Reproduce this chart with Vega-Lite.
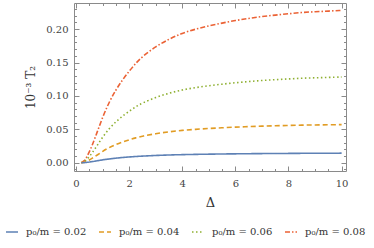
{
  "$schema": "https://vega.github.io/schema/vega-lite/v6.json",
  "autosize": {"type": "none"},
  "width": 272,
  "height": 168,
  "padding": {"left": 74, "top": 3, "right": 28, "bottom": 77},
  "background": "white",
  "config": {
    "font": "DejaVu Serif",
    "view": {"stroke": null},
    "axis": {
      "labelFont": "DejaVu Serif",
      "titleFont": "DejaVu Serif",
      "labelFontSize": 10,
      "labelColor": "#444444",
      "titleColor": "#333333",
      "titleFontWeight": "normal",
      "domainColor": "#8a8a8a",
      "tickColor": "#8a8a8a",
      "grid": false
    },
    "legend": {
      "labelFont": "DejaVu Serif",
      "labelFontSize": 10,
      "labelColor": "#333333"
    }
  },
  "data": {
    "values": [
      {"delta": 0.2, "T2": 0, "series": "p₀/m = 0.08"},
      {"delta": 0.3, "T2": 0.002, "series": "p₀/m = 0.08"},
      {"delta": 0.4, "T2": 0.008, "series": "p₀/m = 0.08"},
      {"delta": 0.5, "T2": 0.016, "series": "p₀/m = 0.08"},
      {"delta": 0.6, "T2": 0.025, "series": "p₀/m = 0.08"},
      {"delta": 0.8, "T2": 0.046, "series": "p₀/m = 0.08"},
      {"delta": 1.0, "T2": 0.068, "series": "p₀/m = 0.08"},
      {"delta": 1.25, "T2": 0.091, "series": "p₀/m = 0.08"},
      {"delta": 1.5, "T2": 0.109, "series": "p₀/m = 0.08"},
      {"delta": 1.75, "T2": 0.124, "series": "p₀/m = 0.08"},
      {"delta": 2.0, "T2": 0.137, "series": "p₀/m = 0.08"},
      {"delta": 2.25, "T2": 0.149, "series": "p₀/m = 0.08"},
      {"delta": 2.5, "T2": 0.159, "series": "p₀/m = 0.08"},
      {"delta": 3.0, "T2": 0.174, "series": "p₀/m = 0.08"},
      {"delta": 3.5, "T2": 0.185, "series": "p₀/m = 0.08"},
      {"delta": 4.0, "T2": 0.194, "series": "p₀/m = 0.08"},
      {"delta": 4.5, "T2": 0.200, "series": "p₀/m = 0.08"},
      {"delta": 5.0, "T2": 0.205, "series": "p₀/m = 0.08"},
      {"delta": 5.5, "T2": 0.209, "series": "p₀/m = 0.08"},
      {"delta": 6.0, "T2": 0.213, "series": "p₀/m = 0.08"},
      {"delta": 6.5, "T2": 0.216, "series": "p₀/m = 0.08"},
      {"delta": 7.0, "T2": 0.219, "series": "p₀/m = 0.08"},
      {"delta": 7.5, "T2": 0.221, "series": "p₀/m = 0.08"},
      {"delta": 8.0, "T2": 0.223, "series": "p₀/m = 0.08"},
      {"delta": 8.5, "T2": 0.225, "series": "p₀/m = 0.08"},
      {"delta": 9.0, "T2": 0.226, "series": "p₀/m = 0.08"},
      {"delta": 9.5, "T2": 0.227, "series": "p₀/m = 0.08"},
      {"delta": 10.0, "T2": 0.228, "series": "p₀/m = 0.08"},

      {"delta": 0.2, "T2": 0, "series": "p₀/m = 0.06"},
      {"delta": 0.3, "T2": 0.0011, "series": "p₀/m = 0.06"},
      {"delta": 0.4, "T2": 0.0045, "series": "p₀/m = 0.06"},
      {"delta": 0.5, "T2": 0.009, "series": "p₀/m = 0.06"},
      {"delta": 0.6, "T2": 0.0141, "series": "p₀/m = 0.06"},
      {"delta": 0.8, "T2": 0.0259, "series": "p₀/m = 0.06"},
      {"delta": 1.0, "T2": 0.0383, "series": "p₀/m = 0.06"},
      {"delta": 1.25, "T2": 0.0512, "series": "p₀/m = 0.06"},
      {"delta": 1.5, "T2": 0.0613, "series": "p₀/m = 0.06"},
      {"delta": 1.75, "T2": 0.0698, "series": "p₀/m = 0.06"},
      {"delta": 2.0, "T2": 0.0771, "series": "p₀/m = 0.06"},
      {"delta": 2.25, "T2": 0.0838, "series": "p₀/m = 0.06"},
      {"delta": 2.5, "T2": 0.0894, "series": "p₀/m = 0.06"},
      {"delta": 3.0, "T2": 0.0979, "series": "p₀/m = 0.06"},
      {"delta": 3.5, "T2": 0.1041, "series": "p₀/m = 0.06"},
      {"delta": 4.0, "T2": 0.1091, "series": "p₀/m = 0.06"},
      {"delta": 4.5, "T2": 0.1125, "series": "p₀/m = 0.06"},
      {"delta": 5.0, "T2": 0.1153, "series": "p₀/m = 0.06"},
      {"delta": 5.5, "T2": 0.1176, "series": "p₀/m = 0.06"},
      {"delta": 6.0, "T2": 0.1198, "series": "p₀/m = 0.06"},
      {"delta": 6.5, "T2": 0.1215, "series": "p₀/m = 0.06"},
      {"delta": 7.0, "T2": 0.1232, "series": "p₀/m = 0.06"},
      {"delta": 7.5, "T2": 0.1243, "series": "p₀/m = 0.06"},
      {"delta": 8.0, "T2": 0.1254, "series": "p₀/m = 0.06"},
      {"delta": 8.5, "T2": 0.1266, "series": "p₀/m = 0.06"},
      {"delta": 9.0, "T2": 0.1271, "series": "p₀/m = 0.06"},
      {"delta": 9.5, "T2": 0.1277, "series": "p₀/m = 0.06"},
      {"delta": 10.0, "T2": 0.1283, "series": "p₀/m = 0.06"},

      {"delta": 0.2, "T2": 0, "series": "p₀/m = 0.04"},
      {"delta": 0.3, "T2": 0.0005, "series": "p₀/m = 0.04"},
      {"delta": 0.4, "T2": 0.002, "series": "p₀/m = 0.04"},
      {"delta": 0.5, "T2": 0.004, "series": "p₀/m = 0.04"},
      {"delta": 0.6, "T2": 0.0063, "series": "p₀/m = 0.04"},
      {"delta": 0.8, "T2": 0.0115, "series": "p₀/m = 0.04"},
      {"delta": 1.0, "T2": 0.017, "series": "p₀/m = 0.04"},
      {"delta": 1.25, "T2": 0.0228, "series": "p₀/m = 0.04"},
      {"delta": 1.5, "T2": 0.0273, "series": "p₀/m = 0.04"},
      {"delta": 1.75, "T2": 0.031, "series": "p₀/m = 0.04"},
      {"delta": 2.0, "T2": 0.0343, "series": "p₀/m = 0.04"},
      {"delta": 2.25, "T2": 0.0373, "series": "p₀/m = 0.04"},
      {"delta": 2.5, "T2": 0.0398, "series": "p₀/m = 0.04"},
      {"delta": 3.0, "T2": 0.0435, "series": "p₀/m = 0.04"},
      {"delta": 3.5, "T2": 0.0463, "series": "p₀/m = 0.04"},
      {"delta": 4.0, "T2": 0.0485, "series": "p₀/m = 0.04"},
      {"delta": 4.5, "T2": 0.05, "series": "p₀/m = 0.04"},
      {"delta": 5.0, "T2": 0.0513, "series": "p₀/m = 0.04"},
      {"delta": 5.5, "T2": 0.0523, "series": "p₀/m = 0.04"},
      {"delta": 6.0, "T2": 0.0533, "series": "p₀/m = 0.04"},
      {"delta": 6.5, "T2": 0.054, "series": "p₀/m = 0.04"},
      {"delta": 7.0, "T2": 0.0548, "series": "p₀/m = 0.04"},
      {"delta": 7.5, "T2": 0.0553, "series": "p₀/m = 0.04"},
      {"delta": 8.0, "T2": 0.0558, "series": "p₀/m = 0.04"},
      {"delta": 8.5, "T2": 0.0563, "series": "p₀/m = 0.04"},
      {"delta": 9.0, "T2": 0.0565, "series": "p₀/m = 0.04"},
      {"delta": 9.5, "T2": 0.0568, "series": "p₀/m = 0.04"},
      {"delta": 10.0, "T2": 0.057, "series": "p₀/m = 0.04"},

      {"delta": 0.2, "T2": 0, "series": "p₀/m = 0.02"},
      {"delta": 0.3, "T2": 0.0001, "series": "p₀/m = 0.02"},
      {"delta": 0.4, "T2": 0.0005, "series": "p₀/m = 0.02"},
      {"delta": 0.5, "T2": 0.001, "series": "p₀/m = 0.02"},
      {"delta": 0.6, "T2": 0.0016, "series": "p₀/m = 0.02"},
      {"delta": 0.8, "T2": 0.0029, "series": "p₀/m = 0.02"},
      {"delta": 1.0, "T2": 0.0043, "series": "p₀/m = 0.02"},
      {"delta": 1.25, "T2": 0.0057, "series": "p₀/m = 0.02"},
      {"delta": 1.5, "T2": 0.0068, "series": "p₀/m = 0.02"},
      {"delta": 1.75, "T2": 0.0078, "series": "p₀/m = 0.02"},
      {"delta": 2.0, "T2": 0.0086, "series": "p₀/m = 0.02"},
      {"delta": 2.25, "T2": 0.0093, "series": "p₀/m = 0.02"},
      {"delta": 2.5, "T2": 0.0099, "series": "p₀/m = 0.02"},
      {"delta": 3.0, "T2": 0.0109, "series": "p₀/m = 0.02"},
      {"delta": 3.5, "T2": 0.0116, "series": "p₀/m = 0.02"},
      {"delta": 4.0, "T2": 0.0121, "series": "p₀/m = 0.02"},
      {"delta": 4.5, "T2": 0.0125, "series": "p₀/m = 0.02"},
      {"delta": 5.0, "T2": 0.0128, "series": "p₀/m = 0.02"},
      {"delta": 5.5, "T2": 0.0131, "series": "p₀/m = 0.02"},
      {"delta": 6.0, "T2": 0.0133, "series": "p₀/m = 0.02"},
      {"delta": 6.5, "T2": 0.0135, "series": "p₀/m = 0.02"},
      {"delta": 7.0, "T2": 0.0137, "series": "p₀/m = 0.02"},
      {"delta": 7.5, "T2": 0.0138, "series": "p₀/m = 0.02"},
      {"delta": 8.0, "T2": 0.0139, "series": "p₀/m = 0.02"},
      {"delta": 8.5, "T2": 0.0141, "series": "p₀/m = 0.02"},
      {"delta": 9.0, "T2": 0.0141, "series": "p₀/m = 0.02"},
      {"delta": 9.5, "T2": 0.0142, "series": "p₀/m = 0.02"},
      {"delta": 10.0, "T2": 0.0143, "series": "p₀/m = 0.02"}
    ]
  },
  "resolve": {"axis": {"x": "independent", "y": "independent"}},
  "layer": [
    {
      "mark": {"type": "line", "strokeWidth": 1.6, "interpolate": "basis"},
      "encoding": {
        "x": {
          "field": "delta", "type": "quantitative",
          "scale": {"domain": [-0.075, 10.165], "nice": false, "zero": false},
          "axis": {"orient": "bottom", "values": [0, 2, 4, 6, 8, 10], "format": "d", "tickSize": -5, "labelPadding": 12, "title": "Δ", "titleFontSize": 13, "titlePadding": 8}
        },
        "y": {
          "field": "T2", "type": "quantitative",
          "scale": {"domain": [-0.0124, 0.2391], "nice": false, "zero": false},
          "axis": {"orient": "left", "values": [0, 0.05, 0.1, 0.15, 0.2], "format": ".2f", "tickSize": -5, "labelPadding": 11, "title": "10⁻³ T₂", "titleFontSize": 12, "titlePadding": 8}
        },
        "color": {
          "field": "series", "type": "nominal",
          "scale": {"domain": ["p₀/m = 0.02", "p₀/m = 0.04", "p₀/m = 0.06", "p₀/m = 0.08"], "range": ["#5E81B5", "#E19C24", "#8FB032", "#EB6235"]},
          "legend": {"orient": "none", "legendX": -69, "legendY": 222, "direction": "horizontal", "columns": 4, "title": null, "symbolType": "stroke", "symbolSize": 144, "symbolStrokeWidth": 1.6, "columnPadding": 8, "labelOffset": 7}
        },
        "strokeDash": {
          "field": "series", "type": "nominal",
          "scale": {"domain": ["p₀/m = 0.02", "p₀/m = 0.04", "p₀/m = 0.06", "p₀/m = 0.08"], "range": [[1, 0], [5, 3], [1.5, 2.5], [5, 2, 1.5, 2]]},
          "legend": {"orient": "none", "legendX": -69, "legendY": 222, "direction": "horizontal", "columns": 4, "title": null, "symbolType": "stroke", "symbolSize": 144, "symbolStrokeWidth": 1.6, "columnPadding": 8, "labelOffset": 7}
        }
      }
    },
    {
      "mark": {"type": "line", "opacity": 0},
      "encoding": {
        "x": {"field": "delta", "type": "quantitative", "axis": {"orient": "top", "values": [0, 2, 4, 6, 8, 10], "labels": false, "tickSize": -5, "title": null}},
        "y": {"field": "T2", "type": "quantitative", "axis": {"orient": "right", "values": [0, 0.05, 0.1, 0.15, 0.2], "labels": false, "tickSize": -5, "title": null}},
        "detail": {"field": "series"}
      }
    },
    {
      "mark": {"type": "line", "opacity": 0},
      "encoding": {
        "x": {"field": "delta", "type": "quantitative", "axis": {"orient": "bottom", "values": [0.5, 1, 1.5, 2.5, 3, 3.5, 4.5, 5, 5.5, 6.5, 7, 7.5, 8.5, 9, 9.5], "labels": false, "domain": false, "tickSize": -2.5, "title": null}},
        "y": {"field": "T2", "type": "quantitative", "axis": {"orient": "left", "values": [-0.01, 0.01, 0.02, 0.03, 0.04, 0.06, 0.07, 0.08, 0.09, 0.11, 0.12, 0.13, 0.14, 0.16, 0.17, 0.18, 0.19, 0.21, 0.22, 0.23], "labels": false, "domain": false, "tickSize": -2.5, "title": null}},
        "detail": {"field": "series"}
      }
    },
    {
      "mark": {"type": "line", "opacity": 0},
      "encoding": {
        "x": {"field": "delta", "type": "quantitative", "axis": {"orient": "top", "values": [0.5, 1, 1.5, 2.5, 3, 3.5, 4.5, 5, 5.5, 6.5, 7, 7.5, 8.5, 9, 9.5], "labels": false, "domain": false, "tickSize": -2.5, "title": null}},
        "y": {"field": "T2", "type": "quantitative", "axis": {"orient": "right", "values": [-0.01, 0.01, 0.02, 0.03, 0.04, 0.06, 0.07, 0.08, 0.09, 0.11, 0.12, 0.13, 0.14, 0.16, 0.17, 0.18, 0.19, 0.21, 0.22, 0.23], "labels": false, "domain": false, "tickSize": -2.5, "title": null}},
        "detail": {"field": "series"}
      }
    }
  ]
}
